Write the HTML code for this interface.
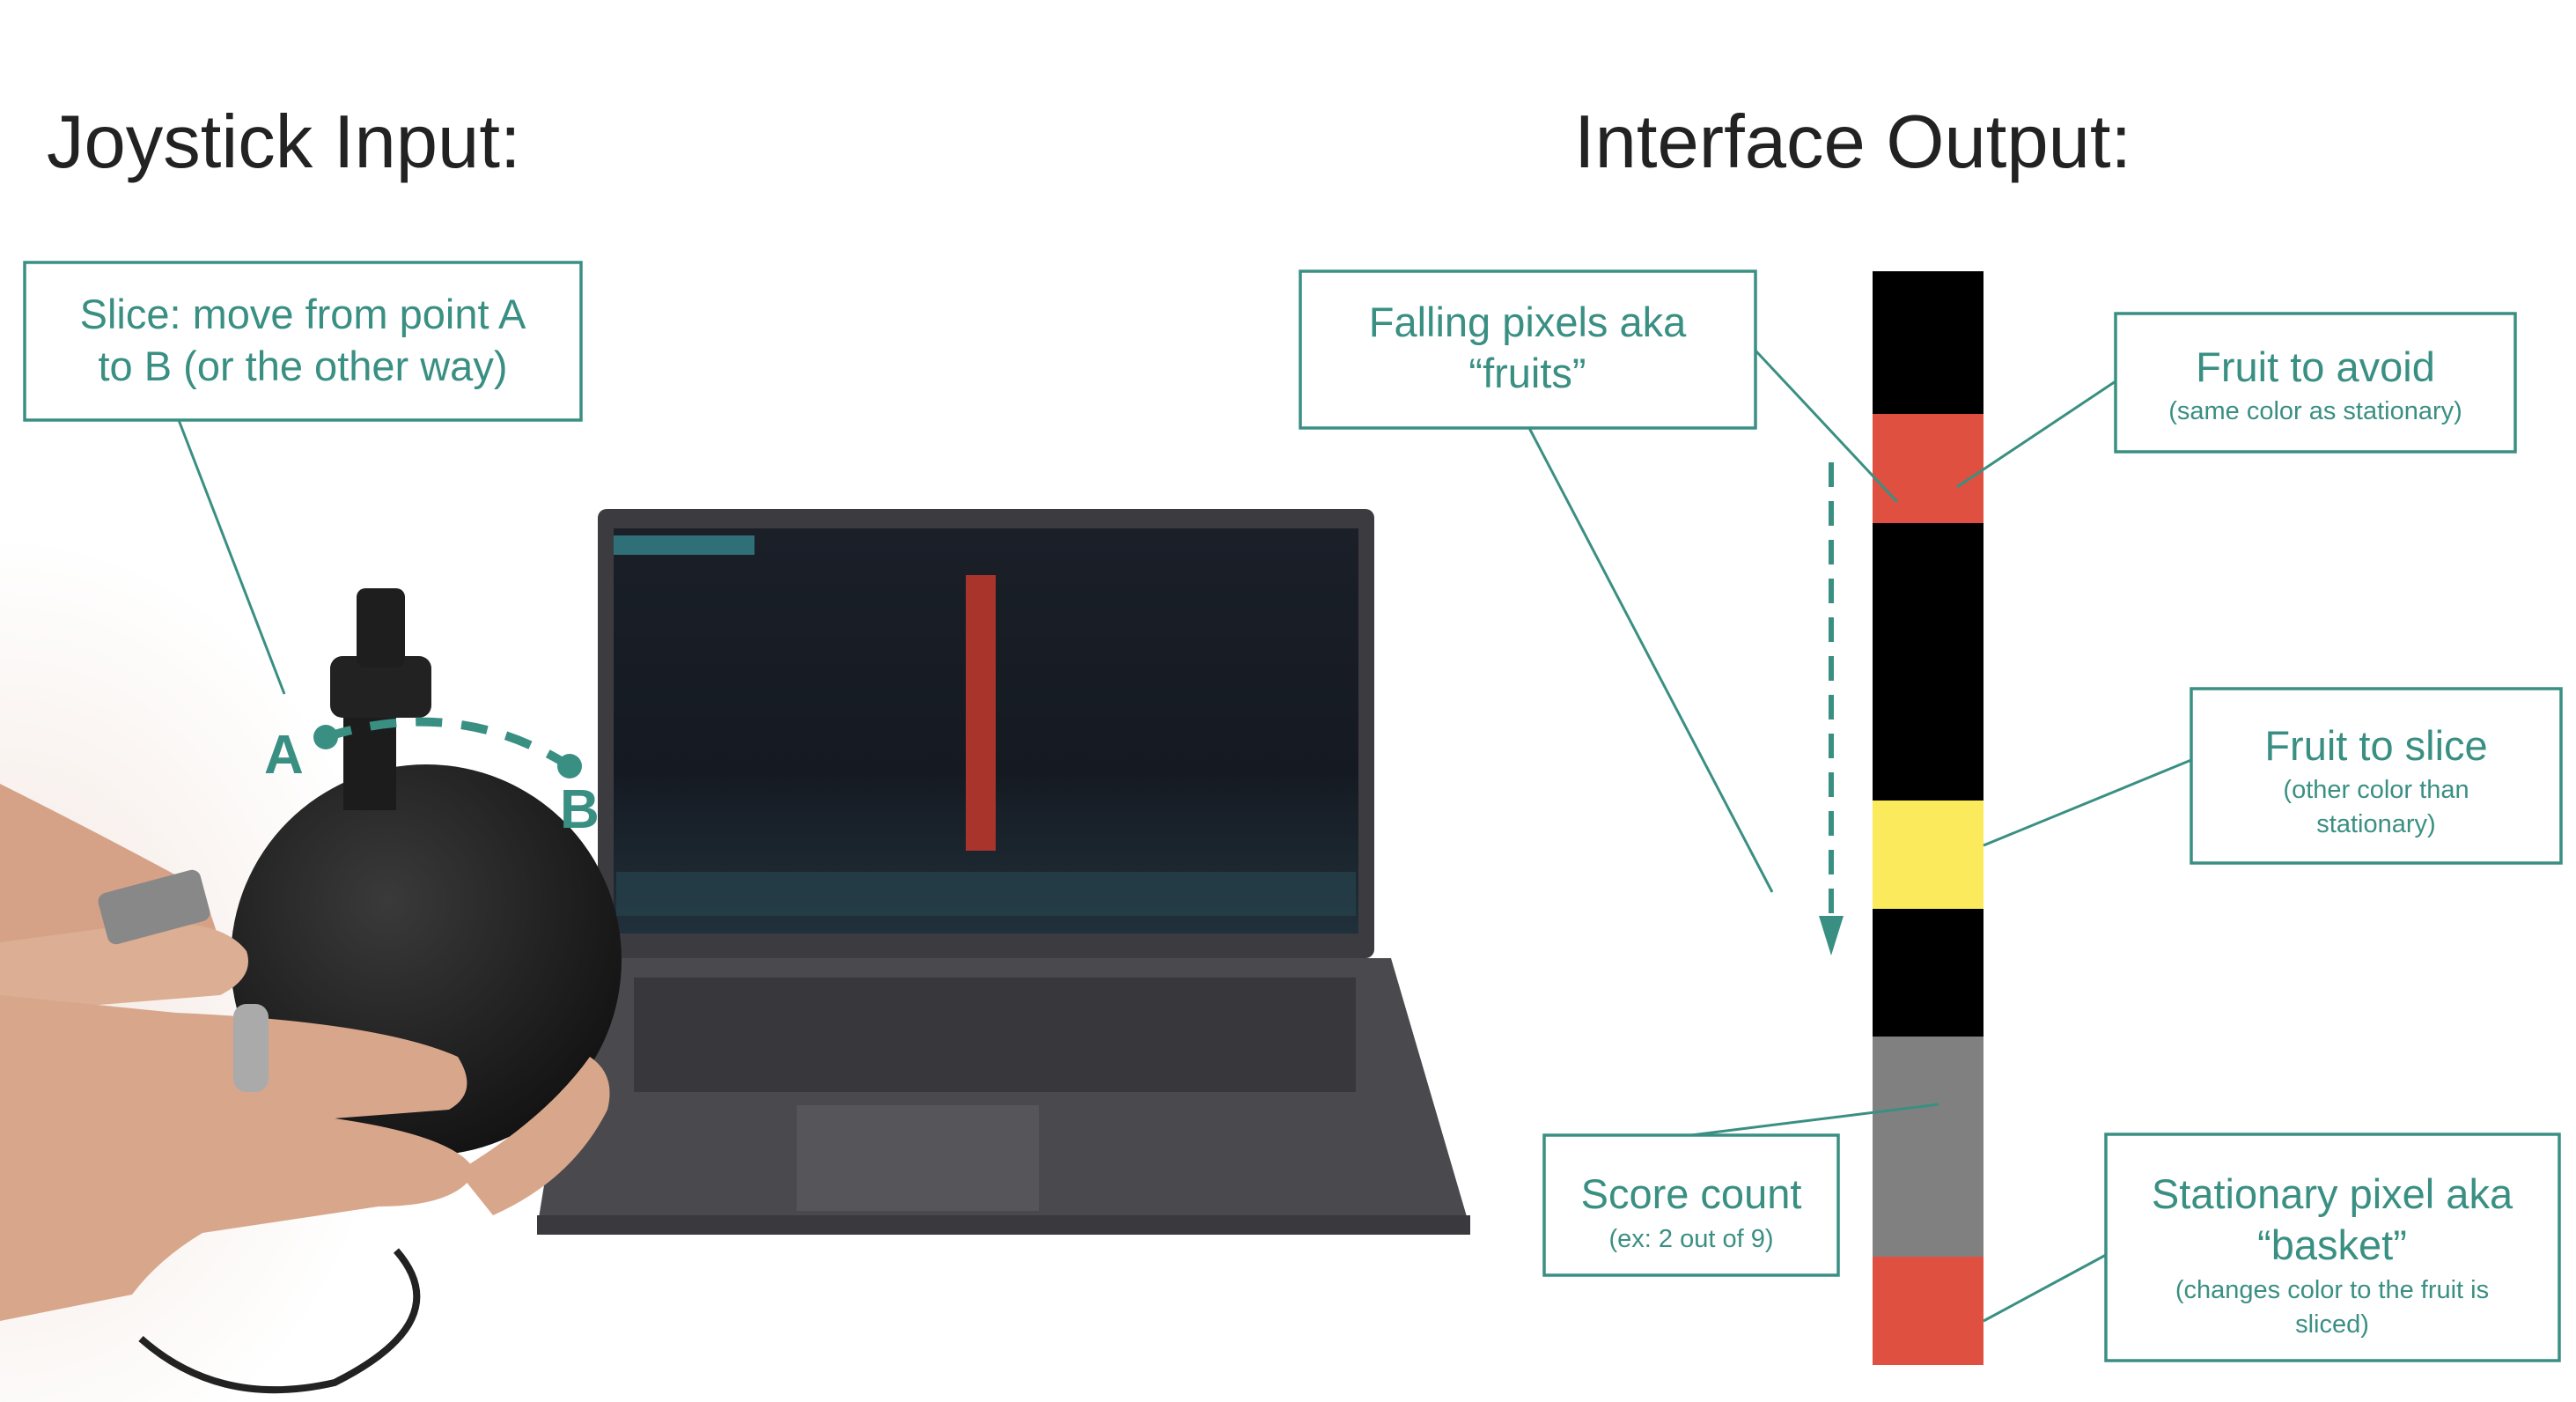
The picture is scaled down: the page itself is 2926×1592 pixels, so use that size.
<!DOCTYPE html>
<html><head><meta charset="utf-8"><style>
html,body{margin:0;padding:0;background:#fff}
svg{display:block}
text{font-family:"Liberation Sans",sans-serif}
</style></head><body>
<svg width="2926" height="1592" viewBox="0 0 2926 1592" xmlns="http://www.w3.org/2000/svg">
<defs>
<radialGradient id="bg" cx="0" cy="0.6" r="0.5"><stop offset="0" stop-color="#f3e6e0"/><stop offset="1" stop-color="#fff"/></radialGradient>
<radialGradient id="sph" cx="0.4" cy="0.35" r="0.7"><stop offset="0" stop-color="#3a3a3a"/><stop offset="1" stop-color="#121212"/></radialGradient>
<linearGradient id="scr" x1="0" y1="0" x2="0" y2="1"><stop offset="0" stop-color="#1a1f28"/><stop offset="0.6" stop-color="#151a22"/><stop offset="1" stop-color="#20303a"/></linearGradient>
</defs>
<rect width="2926" height="1592" fill="#fff"/>
<rect x="0" y="500" width="900" height="1092" fill="url(#bg)"/>
<text x="53" y="190" font-size="85" fill="#222">Joystick Input:</text>
<text x="1788" y="190" font-size="85" fill="#222">Interface Output:</text>
<!-- laptop -->
<polygon points="660,1088 1580,1088 1670,1395 610,1395" fill="#4a4a4e"/>
<rect x="610" y="1380" width="1060" height="22" fill="#3a3a3e"/>
<rect x="720" y="1110" width="820" height="130" fill="#333338" opacity="0.8"/>
<rect x="905" y="1255" width="275" height="120" fill="#55555a"/>
<rect x="679" y="578" width="882" height="510" rx="10" fill="#3c3c40"/>
<rect x="697" y="600" width="846" height="460" fill="url(#scr)"/>
<rect x="697" y="608" width="160" height="22" fill="#2f6f78"/>
<rect x="1097" y="653" width="34" height="313" fill="#a8342c"/>
<rect x="700" y="990" width="840" height="50" fill="#25404a" opacity="0.8"/>
<!-- cable -->
<path d="M450,1420 Q520,1500 380,1570 Q250,1600 160,1520" fill="none" stroke="#222" stroke-width="8"/>
<!-- sphere & stick -->
<circle cx="484" cy="1090" r="222" fill="url(#sph)"/>
<rect x="390" y="790" width="60" height="130" fill="#1c1c1c"/>
<rect x="375" y="745" width="115" height="70" rx="14" fill="#222"/>
<rect x="405" y="668" width="55" height="90" rx="10" fill="#1e1e1e"/>
<!-- hands -->
<path d="M0,890 Q120,950 230,1010 L250,1070 L0,1080 Z" fill="#d6a287"/>
<path d="M0,1070 L150,1050 Q250,1040 280,1080 Q290,1110 250,1130 L0,1150 Z" fill="#dcae93"/>
<path d="M0,1130 L200,1150 Q430,1160 520,1200 Q545,1240 510,1260 L380,1270 Q520,1290 540,1330 Q520,1370 430,1370 L230,1400 Q180,1430 150,1470 L0,1500 Z" fill="#d8a78b"/>
<path d="M520,1330 Q620,1270 670,1200 Q700,1220 690,1260 Q650,1340 560,1380 Z" fill="#d8a78b"/>
<rect x="265" y="1140" width="40" height="100" rx="15" fill="#aaa"/>
<rect x="115" y="1000" width="120" height="60" rx="10" fill="#888" transform="rotate(-15 175 1030)"/>
<!-- arc A-B -->
<path d="M370,837 Q520,790 647,870" fill="none" stroke="#3a8f83" stroke-width="10" stroke-dasharray="30,22"/>
<circle cx="370" cy="837" r="14" fill="#3a8f83"/>
<circle cx="647" cy="870" r="14" fill="#3a8f83"/>
<text x="300" y="878" font-size="62" font-weight="bold" fill="#3a8f83">A</text>
<text x="636" y="940" font-size="62" font-weight="bold" fill="#3a8f83">B</text>
<g transform="translate(-11,0)">
<!-- bar -->
<rect x="2138" y="308" width="126" height="162" fill="#000"/>
<rect x="2138" y="470" width="126" height="124" fill="#e05040"/>
<rect x="2138" y="594" width="126" height="315" fill="#000"/>
<rect x="2138" y="909" width="126" height="123" fill="#fbea5c"/>
<rect x="2138" y="1032" width="126" height="145" fill="#000"/>
<rect x="2138" y="1177" width="126" height="250" fill="#808080"/>
<rect x="2138" y="1427" width="126" height="123" fill="#e05040"/>
<!-- dashed arrow -->
<line x1="2091" y1="525" x2="2091" y2="1040" stroke="#3a8f83" stroke-width="6" stroke-dasharray="28,16"/>
<polygon points="2077,1040 2105,1040 2091,1085" fill="#3a8f83"/>
<g stroke="#3a8f83" stroke-width="3" fill="none">
<line x1="2005" y1="398" x2="2166" y2="570"/>
<line x1="1748" y1="486" x2="2024" y2="1013"/>
<line x1="2414" y1="433" x2="2234" y2="553"/>
<line x1="2500" y1="863" x2="2264" y2="960"/>
<line x1="1932" y1="1289" x2="2213" y2="1254"/>
<line x1="2403" y1="1425" x2="2264" y2="1500"/>
</g>
<g stroke="#3a8f83" stroke-width="3.5" fill="#fff">
<rect x="1488" y="308" width="517" height="178"/>
<rect x="2414" y="356" width="454" height="157"/>
<rect x="2500" y="782" width="420" height="198"/>
<rect x="1765" y="1289" width="334" height="159"/>
<rect x="2403" y="1288" width="515" height="257"/>
</g>
<g fill="#3a8f83" text-anchor="middle">
<text x="1746" y="382" font-size="47">Falling pixels aka</text>
<text x="1746" y="440" font-size="47">“fruits”</text>
<text x="2641" y="433" font-size="47">Fruit to avoid</text>
<text x="2641" y="476" font-size="29">(same color as stationary)</text>
<text x="2710" y="863" font-size="47">Fruit to slice</text>
<text x="2710" y="906" font-size="29">(other color than</text>
<text x="2710" y="945" font-size="29">stationary)</text>
<text x="1932" y="1372" font-size="47">Score count</text>
<text x="1932" y="1416" font-size="29">(ex: 2 out of 9)</text>
<text x="2660" y="1372" font-size="47">Stationary pixel aka</text>
<text x="2660" y="1430" font-size="47">“basket”</text>
<text x="2660" y="1474" font-size="29">(changes color to the fruit is</text>
<text x="2660" y="1513" font-size="29">sliced)</text>
</g>
</g>
<line x1="203" y1="477" x2="323" y2="788" stroke="#3a8f83" stroke-width="3"/>
<rect x="28" y="298" width="632" height="179" stroke="#3a8f83" stroke-width="3.5" fill="#fff"/>
<g fill="#3a8f83" text-anchor="middle">
<text x="344" y="373" font-size="47">Slice: move from point A</text>
<text x="344" y="432" font-size="47">to B (or the other way)</text>
</g>
</svg>
</body></html>
